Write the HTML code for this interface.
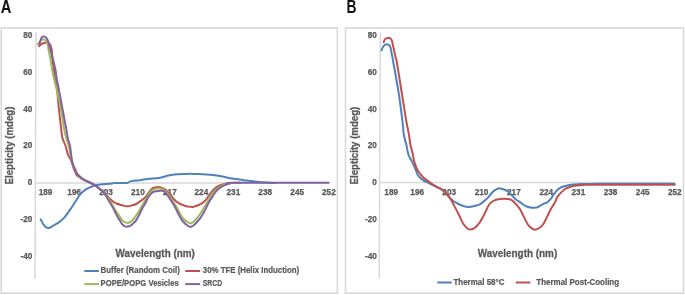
<!DOCTYPE html>
<html><head><meta charset="utf-8"><style>
html,body{margin:0;padding:0;background:#fff;width:685px;height:295px;overflow:hidden}
svg{display:block;will-change:transform}
text{font-family:"Liberation Sans",sans-serif}
.tk{font-size:8.2px;font-weight:bold;fill:#595959;stroke:#595959;stroke-width:0.25px}
.at{font-size:11.6px;font-weight:bold;fill:#595959;stroke:#595959;stroke-width:0.3px}
.lg{font-size:8.4px;font-weight:bold;fill:#595959;stroke:#595959;stroke-width:0.2px}
.pl{font-size:18px;font-weight:bold;fill:#111}
</style></head><body>
<svg width="685" height="295" viewBox="0 0 685 295">
<rect width="685" height="295" fill="#fff"/>
<rect x="1.2" y="28" width="336.2" height="265.2" fill="#fff" stroke="#d9d9d9" stroke-width="1.6"/>
<rect x="345.5" y="28" width="338" height="265.2" fill="#fff" stroke="#d9d9d9" stroke-width="1.6"/>
<text x="0.8" y="13.0" class="pl" textLength="10.6" lengthAdjust="spacingAndGlyphs">A</text>
<text x="346.6" y="13.2" class="pl" textLength="10.0" lengthAdjust="spacingAndGlyphs">B</text>
<!-- axes A -->
<line x1="36.0" y1="32.3" x2="35.0" y2="278.7" stroke="#d9d9d9" stroke-width="1.5"/>
<line x1="35.8" y1="183" x2="329" y2="183" stroke="#d9d9d9" stroke-width="1.5"/>
<line x1="380.3" y1="32.2" x2="379.2" y2="278.6" stroke="#d9d9d9" stroke-width="1.5"/>
<line x1="380" y1="182.5" x2="675" y2="182.5" stroke="#d9d9d9" stroke-width="1.5"/>
<text x="32.3" y="38.0" text-anchor="end" class="tk">80</text><text x="32.3" y="74.8" text-anchor="end" class="tk">60</text><text x="32.3" y="111.6" text-anchor="end" class="tk">40</text><text x="32.3" y="148.4" text-anchor="end" class="tk">20</text><text x="32.3" y="185.2" text-anchor="end" class="tk">0</text><text x="32.3" y="222.0" text-anchor="end" class="tk">-20</text><text x="32.3" y="258.8" text-anchor="end" class="tk">-40</text>
<text x="376.9" y="38.0" text-anchor="end" class="tk">80</text><text x="376.9" y="74.8" text-anchor="end" class="tk">60</text><text x="376.9" y="111.6" text-anchor="end" class="tk">40</text><text x="376.9" y="148.4" text-anchor="end" class="tk">20</text><text x="376.9" y="185.2" text-anchor="end" class="tk">0</text><text x="376.9" y="222.0" text-anchor="end" class="tk">-20</text><text x="376.9" y="258.8" text-anchor="end" class="tk">-40</text>
<text x="45.5" y="194.6" text-anchor="middle" class="tk">189</text><text x="74.2" y="194.6" text-anchor="middle" class="tk">196</text><text x="106.1" y="194.6" text-anchor="middle" class="tk">203</text><text x="137.9" y="194.6" text-anchor="middle" class="tk">210</text><text x="169.9" y="194.6" text-anchor="middle" class="tk">217</text><text x="201.4" y="194.6" text-anchor="middle" class="tk">224</text><text x="233.4" y="194.6" text-anchor="middle" class="tk">231</text><text x="265.2" y="194.6" text-anchor="middle" class="tk">238</text><text x="297.2" y="194.6" text-anchor="middle" class="tk">245</text><text x="328.9" y="194.6" text-anchor="middle" class="tk">252</text>
<text x="391.2" y="194.6" text-anchor="middle" class="tk">189</text><text x="417.2" y="194.6" text-anchor="middle" class="tk">196</text><text x="449.2" y="194.6" text-anchor="middle" class="tk">203</text><text x="481.5" y="194.6" text-anchor="middle" class="tk">210</text><text x="513.9" y="194.6" text-anchor="middle" class="tk">217</text><text x="546.3" y="194.6" text-anchor="middle" class="tk">224</text><text x="578.4" y="194.6" text-anchor="middle" class="tk">231</text><text x="610.6" y="194.6" text-anchor="middle" class="tk">238</text><text x="642.7" y="194.6" text-anchor="middle" class="tk">245</text><text x="674.8" y="194.6" text-anchor="middle" class="tk">252</text>
<text class="at" x="115.5" y="256.5" textLength="79.4" lengthAdjust="spacingAndGlyphs">Wavelength (nm)</text>
<text class="at" x="477.8" y="256.5" textLength="79.4" lengthAdjust="spacingAndGlyphs">Wavelength (nm)</text>
<text class="at" transform="translate(13.3,184.4) rotate(-90)" textLength="77.9" lengthAdjust="spacingAndGlyphs">Elepticity (mdeg)</text>
<text class="at" transform="translate(358.3,184.4) rotate(-90)" textLength="77.7" lengthAdjust="spacingAndGlyphs">Elepticity (mdeg)</text>
<g fill="none" stroke-width="2.0" stroke-linejoin="round" stroke-linecap="round">
<path d="M40.7,219.4 C41.1,220.1 42.0,222.2 42.8,223.5 C43.6,224.8 44.5,226.2 45.5,226.9 C46.5,227.7 47.5,228.2 48.9,228.0 C50.2,227.8 51.9,226.5 53.6,225.5 C55.3,224.5 57.3,223.4 59.1,222.1 C60.9,220.8 62.7,219.4 64.5,217.4 C66.3,215.4 68.2,212.4 69.9,209.9 C71.7,207.4 73.2,204.9 75.0,202.3 C76.8,199.7 78.6,196.3 80.4,194.2 C82.2,192.0 84.0,190.7 85.8,189.4 C87.6,188.2 89.5,187.4 91.3,186.7 C93.1,186.0 94.9,185.4 96.7,185.0 C98.5,184.6 100.1,184.5 102.1,184.3 C104.1,184.1 106.9,184.0 108.9,183.8 C110.9,183.6 112.6,183.2 114.2,183.1 C115.8,182.9 116.4,182.9 118.5,182.9 C120.6,182.9 124.9,183.2 127.0,182.9 C129.1,182.6 129.1,181.6 131.2,181.1 C133.3,180.6 136.9,180.5 139.7,180.2 C142.5,179.8 144.7,179.4 148.1,179.0 C151.5,178.6 156.6,178.4 160.0,177.8 C163.4,177.2 165.7,176.2 168.5,175.6 C171.3,175.0 174.1,174.6 176.9,174.3 C179.7,174.0 182.6,174.0 185.4,173.9 C188.2,173.8 191.1,173.8 193.9,173.9 C196.7,174.0 199.7,174.2 202.4,174.3 C205.1,174.5 207.3,174.6 210.0,174.8 C212.7,175.0 216.0,175.3 218.6,175.7 C221.2,176.1 223.1,176.6 225.3,177.1 C227.6,177.6 229.7,178.1 232.1,178.5 C234.5,178.9 237.5,179.2 240.0,179.6 C242.5,179.9 244.9,180.3 247.3,180.6 C249.7,180.9 252.2,181.3 254.6,181.6 C257.0,181.9 259.5,182.1 261.9,182.3 C264.3,182.5 266.8,182.7 269.2,182.8 C271.6,182.9 274.9,182.9 276.0,182.9" stroke="#4F81BD"/>
<path d="M39.1,46.2 C39.5,45.9 40.6,44.7 41.4,44.2 C42.2,43.7 43.0,43.3 43.8,43.0 C44.6,42.7 45.4,42.5 46.2,42.5 C47.0,42.5 47.8,42.8 48.5,43.2 C49.2,43.6 49.7,44.1 50.2,44.9 C50.7,45.7 51.0,46.8 51.3,47.9 C51.6,49.0 51.7,49.3 51.9,51.3 C52.1,53.3 52.1,56.9 52.5,60.0 C52.9,63.1 53.5,66.7 54.0,70.0 C54.5,73.3 54.8,77.0 55.3,80.0 C55.8,83.0 56.3,83.3 56.9,88.0 C57.5,92.7 58.1,101.3 58.8,108.0 C59.5,114.7 60.5,123.0 61.1,128.0 C61.7,133.0 61.9,135.6 62.4,138.0 C62.9,140.4 63.7,141.2 64.2,142.5 C64.7,143.8 64.9,143.9 65.6,146.0 C66.2,148.1 67.2,152.6 68.1,155.0 C69.0,157.4 70.3,158.3 71.2,160.5 C72.1,162.7 72.8,166.0 73.5,168.0 C74.2,170.0 74.9,171.3 75.5,172.5 C76.1,173.7 76.2,174.4 77.0,175.3 C77.8,176.2 79.4,177.1 80.5,177.8 C81.6,178.5 82.2,179.0 83.6,179.7 C84.9,180.4 86.9,181.2 88.6,182.0 C90.3,182.8 92.2,183.6 94.0,184.7 C95.8,185.8 98.0,187.4 99.4,188.5 C100.9,189.6 101.9,190.7 102.7,191.4 C103.5,192.1 103.7,191.9 104.4,192.6 C105.1,193.3 106.0,194.4 106.9,195.5 C107.9,196.6 109.0,197.9 110.1,199.0 C111.2,200.1 112.3,201.1 113.4,201.8 C114.5,202.6 115.5,203.0 116.6,203.5 C117.7,204.0 118.8,204.3 119.9,204.7 C121.0,205.0 122.2,205.3 123.2,205.6 C124.2,205.8 125.1,206.1 126.0,206.2 C126.9,206.3 127.5,206.5 128.5,206.3 C129.5,206.2 130.8,205.7 132.1,205.3 C133.4,204.9 134.9,204.7 136.2,204.0 C137.5,203.3 138.8,202.2 140.0,201.4 C141.2,200.6 142.3,200.0 143.4,199.0 C144.5,198.0 145.8,196.8 146.8,195.6 C147.8,194.4 148.6,192.9 149.5,191.7 C150.4,190.5 151.3,189.3 152.2,188.6 C153.1,187.9 153.9,187.7 154.9,187.4 C155.9,187.2 157.2,187.0 158.3,187.1 C159.4,187.2 160.7,187.5 161.7,187.8 C162.7,188.2 163.6,188.7 164.4,189.2 C165.2,189.7 165.6,190.1 166.5,190.9 C167.4,191.7 168.7,193.0 169.8,194.2 C170.9,195.4 171.9,197.0 173.0,198.2 C174.1,199.4 175.2,200.6 176.3,201.5 C177.4,202.4 178.2,202.8 179.5,203.5 C180.8,204.2 182.6,204.9 184.0,205.4 C185.4,205.9 186.5,206.3 188.0,206.6 C189.5,206.8 191.7,207.0 193.1,206.9 C194.5,206.8 195.4,206.2 196.5,205.8 C197.6,205.4 198.5,205.0 199.5,204.5 C200.5,204.0 201.5,203.7 202.5,203.0 C203.5,202.3 204.6,201.2 205.5,200.3 C206.4,199.4 206.9,198.6 207.7,197.5 C208.5,196.4 209.5,194.7 210.4,193.5 C211.3,192.3 212.2,191.2 213.1,190.3 C214.0,189.4 214.9,188.5 215.8,187.8 C216.7,187.1 217.6,186.5 218.6,186.0 C219.6,185.5 220.9,185.0 222.0,184.7 C223.1,184.4 223.8,184.2 225.0,184.0 C226.2,183.8 227.3,183.4 229.0,183.2 C230.7,183.0 233.2,183.0 235.0,182.9 C236.8,182.8 239.2,182.8 240.0,182.8" stroke="#C0504D"/>
<path d="M37.7,44.5 C38.0,44.0 39.0,42.6 39.7,41.8 C40.4,41.0 41.1,40.2 41.8,39.8 C42.5,39.4 43.1,39.3 43.8,39.4 C44.5,39.5 45.2,40.0 45.8,40.5 C46.4,41.0 46.8,41.6 47.2,42.5 C47.6,43.4 47.9,44.8 48.1,45.9 C48.3,47.0 48.3,48.1 48.5,49.3 C48.7,50.5 48.9,51.2 49.2,53.0 C49.6,54.8 50.1,57.2 50.6,60.0 C51.1,62.8 51.6,66.7 52.2,70.0 C52.8,73.3 53.6,76.7 54.4,80.0 C55.2,83.3 55.7,85.3 56.8,90.0 C57.9,94.7 59.6,101.7 60.8,108.0 C62.0,114.3 63.1,123.0 64.0,128.0 C64.9,133.0 65.4,135.0 66.2,138.0 C67.0,141.0 68.0,143.2 68.7,146.0 C69.4,148.8 70.0,152.7 70.5,155.0 C71.0,157.3 71.4,158.5 71.8,160.0 C72.2,161.5 72.3,162.8 72.8,164.1 C73.2,165.4 73.9,166.8 74.5,168.1 C75.1,169.4 75.6,170.8 76.2,171.9 C76.8,173.0 77.4,174.0 78.2,174.9 C79.0,175.8 80.0,176.8 80.9,177.6 C81.8,178.4 82.3,179.0 83.6,179.7 C84.9,180.4 86.9,181.2 88.6,182.0 C90.3,182.8 92.2,183.6 94.0,184.7 C95.8,185.8 97.7,187.4 99.4,188.7 C101.1,190.0 102.8,191.4 104.1,192.7 C105.4,194.0 106.0,195.1 107.0,196.5 C108.0,197.9 109.0,199.7 110.1,201.4 C111.2,203.1 112.4,205.1 113.4,206.7 C114.4,208.3 115.1,209.5 116.0,211.0 C116.9,212.5 118.0,214.0 119.0,215.5 C120.0,217.0 121.0,218.8 122.0,219.9 C123.0,221.0 124.0,221.7 124.9,222.2 C125.8,222.7 126.6,222.9 127.5,222.9 C128.4,222.9 129.3,222.8 130.2,222.2 C131.1,221.6 132.1,220.6 133.1,219.5 C134.1,218.4 135.1,216.9 136.1,215.5 C137.1,214.1 138.1,212.7 139.1,211.0 C140.1,209.3 141.5,206.8 142.3,205.3 C143.1,203.9 143.3,203.5 144.1,202.3 C144.8,201.1 145.9,199.5 146.8,198.0 C147.7,196.5 148.6,194.7 149.5,193.4 C150.4,192.1 151.2,191.0 152.2,190.2 C153.2,189.4 154.5,189.1 155.6,188.8 C156.7,188.5 157.9,188.3 159.0,188.4 C160.1,188.5 161.2,188.6 162.4,189.2 C163.6,189.8 165.1,190.9 166.2,192.0 C167.3,193.1 168.1,194.4 169.2,196.0 C170.3,197.6 171.9,199.8 173.0,201.5 C174.1,203.2 175.1,204.7 175.9,206.0 C176.7,207.3 177.0,208.0 177.8,209.5 C178.6,211.0 179.9,213.5 180.8,215.1 C181.8,216.7 182.6,217.8 183.5,218.8 C184.4,219.8 185.4,220.5 186.3,221.2 C187.2,221.9 188.0,222.5 188.8,222.8 C189.6,223.1 190.2,223.4 191.0,223.2 C191.8,223.0 192.5,222.7 193.5,221.8 C194.5,221.0 196.0,219.3 197.0,218.1 C198.0,216.9 198.8,215.8 199.7,214.5 C200.6,213.2 201.4,212.0 202.3,210.6 C203.2,209.2 204.1,207.7 205.0,206.2 C205.9,204.7 206.7,203.2 207.6,201.8 C208.5,200.4 209.4,198.8 210.2,197.5 C211.0,196.2 211.9,194.7 212.5,193.8 C213.1,192.9 213.1,192.8 213.8,192.0 C214.5,191.2 215.6,190.0 216.5,189.2 C217.4,188.4 218.3,187.8 219.2,187.2 C220.1,186.6 221.0,186.1 222.0,185.7 C223.0,185.2 223.8,184.9 225.0,184.5 C226.2,184.1 227.3,183.6 229.0,183.3 C230.7,183.0 233.2,182.9 235.0,182.8 C236.8,182.7 239.2,182.8 240.0,182.8" stroke="#9BBB59"/>
<path d="M39.4,44.5 C39.5,43.9 40.0,42.0 40.3,41.0 C40.6,40.0 41.0,38.9 41.3,38.2 C41.6,37.5 41.9,37.1 42.3,36.8 C42.7,36.5 43.1,36.4 43.5,36.4 C43.9,36.4 44.3,36.4 44.8,36.6 C45.2,36.8 45.8,37.4 46.2,37.8 C46.6,38.2 46.8,38.3 47.2,39.1 C47.6,39.9 48.1,41.2 48.5,42.5 C48.9,43.8 49.2,45.2 49.6,46.6 C50.0,48.0 50.0,48.4 50.6,50.6 C51.2,52.8 52.4,56.8 53.2,60.0 C54.0,63.2 54.9,66.7 55.5,70.0 C56.1,73.3 56.4,77.0 56.9,80.0 C57.4,83.0 57.7,83.3 58.6,88.0 C59.5,92.7 61.0,101.3 62.3,108.0 C63.5,114.7 65.2,123.0 66.1,128.0 C67.0,133.0 67.1,135.0 67.8,138.0 C68.5,141.0 69.4,143.2 70.0,146.0 C70.6,148.8 70.9,152.7 71.2,155.0 C71.5,157.3 71.5,158.5 71.8,160.0 C72.1,161.5 72.3,162.8 72.8,164.1 C73.2,165.4 73.9,166.8 74.5,168.1 C75.1,169.4 75.6,170.8 76.2,171.9 C76.8,173.0 77.4,174.0 78.2,174.9 C79.0,175.8 80.0,176.8 80.9,177.6 C81.8,178.4 82.3,179.0 83.6,179.7 C84.9,180.4 86.9,181.2 88.6,182.0 C90.3,182.8 92.2,183.6 94.0,184.7 C95.8,185.8 98.0,187.6 99.4,188.7 C100.9,189.8 102.0,190.8 102.7,191.4 C103.4,192.0 103.0,191.5 103.6,192.3 C104.2,193.1 105.3,194.8 106.1,196.1 C106.9,197.4 107.7,198.8 108.5,200.2 C109.3,201.6 110.2,203.0 111.0,204.3 C111.8,205.6 112.3,206.6 113.0,207.9 C113.7,209.2 114.5,211.0 115.0,212.0 C115.5,213.0 115.3,212.8 116.0,214.0 C116.7,215.2 118.0,217.5 119.0,219.2 C120.0,220.9 121.0,222.8 122.0,224.0 C123.0,225.2 124.0,225.9 124.9,226.3 C125.8,226.7 126.3,226.7 127.2,226.6 C128.1,226.5 129.2,226.4 130.2,225.9 C131.2,225.4 132.1,224.5 133.1,223.6 C134.1,222.7 135.1,221.7 136.1,220.3 C137.1,218.9 138.2,216.7 139.1,215.1 C139.9,213.5 140.5,211.9 141.2,210.5 C141.9,209.1 142.5,207.9 143.2,206.7 C143.9,205.5 144.5,204.7 145.3,203.2 C146.1,201.7 147.2,199.1 148.1,197.6 C149.0,196.1 150.0,194.9 150.9,193.9 C151.8,192.9 152.6,192.2 153.6,191.8 C154.6,191.4 155.9,191.4 157.0,191.2 C158.1,191.0 159.3,190.8 160.4,190.8 C161.5,190.8 162.5,190.6 163.5,191.1 C164.5,191.6 165.4,192.5 166.5,193.8 C167.6,195.1 168.7,197.2 169.8,198.8 C170.9,200.4 172.1,202.0 173.0,203.5 C173.9,205.0 174.7,206.4 175.5,208.0 C176.3,209.6 177.1,211.2 178.0,213.0 C178.9,214.8 179.9,217.0 180.8,218.5 C181.7,220.0 182.6,221.0 183.5,222.0 C184.4,223.0 185.2,223.8 186.3,224.6 C187.4,225.4 189.1,226.8 190.3,226.9 C191.6,227.0 192.7,226.0 193.8,225.2 C194.9,224.4 196.0,223.1 197.0,222.0 C198.0,220.9 198.8,220.1 199.7,218.9 C200.6,217.7 201.4,216.4 202.3,215.0 C203.2,213.6 204.1,212.1 205.0,210.4 C205.9,208.7 206.8,206.4 207.6,204.8 C208.4,203.2 209.1,202.0 209.8,200.8 C210.5,199.6 211.1,198.7 211.8,197.6 C212.5,196.5 213.0,195.5 213.8,194.4 C214.6,193.3 215.6,191.8 216.5,190.8 C217.4,189.8 218.3,189.1 219.2,188.4 C220.1,187.7 221.0,187.2 222.0,186.7 C223.0,186.2 224.1,185.6 225.0,185.2 C225.9,184.8 226.6,184.3 227.5,184.0 C228.4,183.7 229.2,183.4 230.4,183.2 C231.7,183.0 218.6,182.9 235.0,182.8 C251.4,182.7 313.1,182.8 328.7,182.8" stroke="#8064A2"/>
<path d="M381.6,50.3 C381.9,49.7 382.4,47.7 383.1,46.7 C383.8,45.7 384.8,44.7 385.6,44.4 C386.5,44.1 387.5,44.4 388.2,44.7 C388.9,45.0 389.5,45.4 390.0,46.2 C390.5,47.1 390.7,48.3 391.0,49.8 C391.3,51.3 391.7,53.7 392.0,55.4 C392.3,57.1 391.9,54.2 392.9,60.0 C393.9,65.8 396.6,80.0 398.2,90.0 C399.8,100.0 401.4,112.5 402.3,120.0 C403.2,127.5 403.2,130.8 403.9,135.0 C404.6,139.2 405.6,141.8 406.4,145.0 C407.1,148.2 407.6,152.0 408.4,154.5 C409.2,157.0 410.2,158.1 411.1,159.9 C412.0,161.7 412.9,163.3 413.8,165.3 C414.7,167.3 415.8,170.3 416.6,172.1 C417.4,173.9 417.5,174.8 418.6,176.2 C419.7,177.6 421.6,179.2 423.3,180.3 C425.0,181.4 426.7,182.0 428.8,183.0 C430.9,184.0 433.7,185.5 435.8,186.5 C437.9,187.5 439.7,188.2 441.3,189.2 C442.9,190.2 443.5,190.8 445.3,192.6 C447.1,194.4 450.1,198.3 452.1,200.1 C454.1,201.9 455.4,202.4 457.5,203.5 C459.6,204.6 462.9,205.9 465.0,206.5 C467.1,207.1 468.2,207.0 469.9,206.9 C471.6,206.8 473.5,206.3 475.3,205.8 C477.1,205.3 479.2,204.7 480.8,203.8 C482.4,202.9 483.6,201.6 485.0,200.3 C486.4,199.1 487.8,197.8 489.1,196.3 C490.5,194.8 491.8,192.8 493.1,191.5 C494.5,190.2 496.1,189.3 497.2,188.8 C498.3,188.3 498.8,188.3 499.9,188.4 C501.0,188.5 502.6,189.0 504.0,189.5 C505.4,190.0 506.8,190.5 508.1,191.5 C509.5,192.5 510.8,194.2 512.1,195.6 C513.5,197.0 514.8,198.6 516.2,199.7 C517.6,200.8 518.8,201.4 520.3,202.4 C521.8,203.4 523.6,204.9 525.4,205.8 C527.1,206.7 529.0,207.3 530.8,207.6 C532.6,207.9 534.7,207.8 536.3,207.5 C537.9,207.2 538.9,206.3 540.3,205.6 C541.6,204.9 543.3,203.9 544.4,203.4 C545.5,202.9 546.0,203.3 547.1,202.5 C548.2,201.7 550.0,199.8 551.2,198.4 C552.4,197.0 553.1,195.2 554.1,193.9 C555.1,192.6 556.1,191.3 557.1,190.3 C558.1,189.3 559.0,188.5 560.2,187.8 C561.4,187.1 562.9,186.6 564.2,186.2 C565.6,185.8 566.8,185.5 568.3,185.2 C569.8,184.9 571.4,184.6 573.4,184.4 C575.4,184.2 577.7,184.2 580.5,184.1 C583.3,184.0 585.1,183.9 590.0,183.9 C594.9,183.9 595.9,183.8 610.0,183.8 C624.1,183.8 663.9,183.8 674.7,183.8" stroke="#4F81BD"/>
<path d="M383.6,42.2 C383.9,41.7 384.4,39.8 385.1,39.1 C385.8,38.4 386.9,38.0 387.7,37.9 C388.5,37.8 389.5,37.9 390.2,38.3 C390.9,38.7 391.3,39.1 391.7,40.1 C392.1,41.1 392.3,42.3 392.7,44.2 C393.1,46.1 393.8,48.9 394.3,51.3 C394.8,53.7 395.4,56.6 395.8,58.4 C396.2,60.2 395.9,56.7 396.8,62.0 C397.7,67.3 399.8,80.3 401.3,90.0 C402.9,99.7 404.8,112.5 406.1,120.0 C407.4,127.5 408.3,130.8 409.0,135.0 C409.7,139.2 409.9,142.0 410.5,145.0 C411.1,148.0 411.8,150.2 412.5,153.1 C413.2,156.0 413.6,159.6 414.5,162.6 C415.4,165.6 416.4,168.3 417.9,170.8 C419.4,173.3 421.5,175.7 423.3,177.5 C425.1,179.3 426.7,180.1 428.8,181.6 C430.9,183.1 433.7,185.2 435.8,186.5 C437.9,187.8 439.5,187.9 441.3,189.2 C443.1,190.4 445.1,192.3 446.7,194.0 C448.3,195.7 449.4,197.2 450.8,199.4 C452.2,201.6 453.4,204.2 454.8,206.9 C456.2,209.6 457.7,212.5 459.1,215.3 C460.5,218.1 461.8,221.3 463.1,223.5 C464.5,225.7 465.9,227.2 467.2,228.2 C468.4,229.2 469.2,229.7 470.6,229.6 C472.0,229.5 473.8,228.6 475.3,227.5 C476.8,226.4 478.0,224.7 479.4,222.8 C480.8,220.9 482.1,218.6 483.5,216.0 C484.9,213.4 486.6,209.2 487.7,207.1 C488.8,204.9 489.3,204.2 490.4,203.1 C491.5,202.0 492.9,201.0 494.5,200.3 C496.1,199.6 497.6,199.2 499.9,199.0 C502.2,198.8 506.1,198.8 508.1,199.0 C510.1,199.2 510.8,199.4 512.1,200.3 C513.5,201.2 514.8,202.8 516.2,204.4 C517.6,206.0 519.0,207.6 520.3,209.8 C521.6,212.0 522.8,214.9 524.1,217.4 C525.4,219.9 526.8,222.9 528.1,224.8 C529.5,226.7 531.0,227.8 532.2,228.6 C533.5,229.4 534.2,229.8 535.6,229.6 C537.0,229.4 538.9,228.3 540.3,227.3 C541.6,226.3 542.6,225.3 543.7,223.5 C544.8,221.7 545.9,219.2 547.1,216.7 C548.4,214.2 549.8,211.1 551.2,208.6 C552.6,206.1 554.3,203.7 555.3,201.8 C556.3,199.9 556.1,199.0 557.1,197.4 C558.1,195.8 559.8,193.8 561.2,192.4 C562.6,191.0 563.8,189.7 565.3,188.8 C566.8,187.9 568.5,187.4 570.4,186.8 C572.3,186.2 574.3,185.8 576.5,185.5 C578.7,185.2 579.7,185.0 583.6,184.9 C587.5,184.8 584.8,184.8 600.0,184.8 C615.2,184.8 662.2,184.8 674.7,184.8" stroke="#C0504D"/>
</g>
<!-- legend A -->
<g stroke-width="2">
<line x1="84.3" y1="271" x2="99" y2="271" stroke="#4F81BD"/>
<line x1="185.2" y1="271" x2="200.1" y2="271" stroke="#C0504D"/>
<line x1="84.3" y1="284.1" x2="99" y2="284.1" stroke="#9BBB59"/>
<line x1="185.2" y1="284.1" x2="200.1" y2="284.1" stroke="#8064A2"/>
<line x1="437.2" y1="282.5" x2="451.8" y2="282.5" stroke="#4F81BD"/>
<line x1="515.8" y1="282.5" x2="530.4" y2="282.5" stroke="#C0504D"/>
</g>
<text class="lg" x="100.6" y="272.9" textLength="79.2" lengthAdjust="spacingAndGlyphs">Buffer (Random Coil)</text>
<text class="lg" x="202.8" y="272.9" textLength="96.4" lengthAdjust="spacingAndGlyphs">30% TFE (Helix Induction)</text>
<text class="lg" x="100.6" y="285.9" textLength="78.2" lengthAdjust="spacingAndGlyphs">POPE/POPG Vesicles</text>
<text class="lg" x="202.8" y="285.9" textLength="19.3" lengthAdjust="spacingAndGlyphs">SRCD</text>
<text class="lg" x="453.4" y="284.8" textLength="51.1" lengthAdjust="spacingAndGlyphs">Thermal 58°C</text>
<text class="lg" x="536.3" y="284.8" textLength="82.8" lengthAdjust="spacingAndGlyphs">Thermal Post-Cooling</text>
</svg>
</body></html>
